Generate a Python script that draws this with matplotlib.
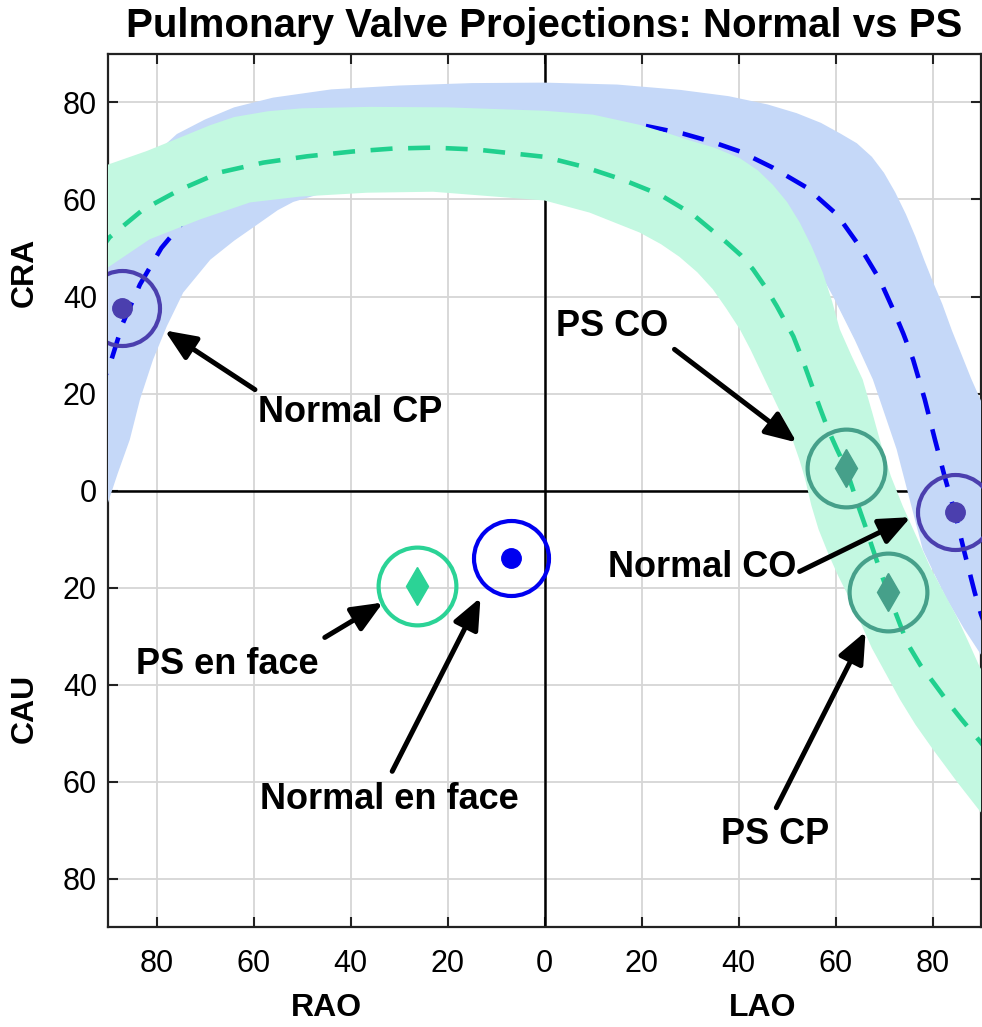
import numpy as np
import matplotlib
matplotlib.use("Agg")
import matplotlib.pyplot as plt

plt.rcParams['font.family'] = ['Liberation Sans', 'DejaVu Sans']

# --- data (x: +LAO / -RAO, y: +CRA / -CAU) ---
normal_line_x = [-92, -89.6, -86.9, -83.4, -79, -74, -67, -58, -48, -36, -24, -10, 0, 10, 20.7, 28.5,
                 34.5, 40.3, 47, 54, 60.3, 65, 69.1, 71.9, 74, 76, 78.4, 80.5, 82.5, 84.6, 86.6, 88.7,
                 90, 92]
normal_line_y = [20, 26, 34.6, 42.5, 50, 56, 61.5, 66, 69.5, 72, 73.5, 74.5, 75, 75.1, 75.2, 73.6,
                 71.9, 69.9, 66.6, 62.5, 56.9, 50.3, 43.5, 37.3, 32.3, 27, 18.8, 10.5, 2.9, -4.5, -12.8,
                 -21, -25.5, -31]

normal_outer_x = [-92, -90, -86, -82, -78, -75.8, -70, -64, -56, -44, -30, -15, 0, 15, 28, 38, 46, 52,
                  57, 61, 64.4, 67.5, 70, 72.3, 74.5, 76.5, 78.3, 80.1, 82, 84, 86, 88, 90, 92]
normal_outer_y = [58, 62, 65.5, 68.5, 71.5, 73.5, 76.5, 79, 81, 82.7, 83.5, 84, 84.1, 83.7, 82.6, 81.3,
                  79.6, 77.8, 75.8, 73.6, 71.6, 68.8, 65.5, 61.5, 57, 52.3, 47.5, 43, 38.5, 33, 28, 23,
                  18.5, 14]
normal_inner_x = [-92, -90, -88, -85.5, -83.4, -80.7, -77.9, -74.5, -68.9, -64, -60.7, -55, -51.8, -45,
                  -30, -15, 0, 20, 35, 46, 54, 59.5, 64, 67.7, 69.1, 72.6, 75.3, 78, 80.5, 83, 86.5,
                  89.7, 92]
normal_inner_y = [-8, -2.5, 3.5, 10.5, 18.8, 27, 33.8, 40.8, 47.6, 51.5, 53.8, 57.8, 59.5, 61.5,
                  62.8, 63, 63, 63, 61, 57, 50, 40, 31, 22.9, 18.8, 8.5, -1.9, -12.2, -17.5, -22.5,
                  -28.5, -33.4, -37]

ps_line_x = [-92, -89.7, -82.8, -75.2, -66.9, -58, -49, -39.5, -31.3, -23, -14, 0, 7.9, 16.1, 23.8,
             30.6, 37.6, 40.5, 43, 45.5, 47.9, 51.3, 53.2, 55, 56.8, 58.5, 60.3, 62.1, 63.5, 64.8, 66.2,
             67.5, 69.2, 70.8, 72.5, 74.8, 77.5, 80.5, 83.3, 86, 90, 92]
ps_line_y = [49, 52.2, 57.9, 62, 65.6, 67.6, 68.9, 69.9, 70.5, 70.7, 70.3, 68.8, 66.8, 64.1, 61,
             56.9, 51.1, 48.5, 45.6, 42, 38, 31.8, 27, 22, 17, 12.5, 8.5, 4.7, 0.5, -3.5, -7.5,
             -11.5, -16.5, -21, -25.5, -31.5, -36, -40, -43.8, -47.2, -52, -54.5]

ps_outer_x = [-92, -90, -82, -74.6, -69, -64, -57, -50, -36, -20, 0, 10, 19.6, 25, 29.9, 35, 40.3, 44,
              47.1, 50, 52.6, 55, 57.4, 59.3, 60.9, 63.3, 65.6, 67.6, 69.4, 71.4, 73.9, 76.7, 79.5,
              82.2, 85, 87.4, 89.7, 92]
ps_outer_y = [66.5, 67.2, 70, 73, 75.3, 77, 78.2, 78.8, 79.1, 79, 78.3, 77.5, 75.4, 73.8, 72.2, 70.7,
              68.5, 66, 63, 59.5, 55.3, 50.5, 44.9, 39, 33.2, 27.8, 22.9, 16, 9.5, 3, -3.3, -9.5,
              -15.7, -20.8, -26, -31.2, -36.3, -40]
ps_inner_x = [-92, -90, -81.4, -71, -60.7, -50.4, -36.6, -23, 0, 9.3, 19.6, 24, 27.8, 31.5, 34.7, 37.5,
              40.3, 42.5, 44.4, 47.5, 50.6, 52.5, 53.7, 55, 56.5, 58.5, 60.5, 63.5, 67.5, 73.3, 76.5,
              80.1, 85, 90, 92]
ps_inner_y = [44, 46, 51.8, 55.9, 59.4, 60.6, 61.4, 61.6, 59.8, 57.3, 53.2, 50.8, 48.2, 45, 41.5,
              37.5, 33.2, 29, 25, 18.5, 12, 6.5, 2.5, -3, -8, -13, -17.5, -23.5, -32.5, -43.1,
              -48.3, -53.4, -60, -66.4, -68.5]

normal_names = ['Normal CP', 'Normal CO', 'Normal en face']
normal_x = [-87.2, 84.6, -6.9]
normal_y = [37.7, -4.5, -14.0]

ps_names = ['PS CO', 'PS CP', 'PS en face']
ps_x = [62.1, 70.8, -26.3]
ps_y = [4.7, -21.0, -19.6]

ticks = [-80, -60, -40, -20, 0, 20, 40, 60, 80]

# --- styles ---
normal_band = '#c5d8f8'
ps_band = '#c3f8e1'
normal_line_c = '#0000f0'
ps_line_c = '#20d08e'
purple = '#4b3fae'
teal = '#46a08a'
green = '#2bd396'
blue = '#0000f0'

normal_colors = [purple, purple, blue]
ps_colors = [teal, teal, green]

# label: (text x, text y, arrow tail x, tail y, head x, head y)
label_layout = {
    'Normal CP': (-40, 16.1, -59.7, 20.8, -78.3, 33.0),
    'PS CO': (13.9, 33.8, 26.8, 29.1, 52.0, 9.9),
    'Normal CO': (32.5, -15.9, 52.6, -16.7, 75.5, -5.5),
    'PS en face': (-65.3, -35.9, -45.3, -30.3, -33.3, -23.1),
    'Normal en face': (-31.9, -63.7, -31.4, -57.9, -13.2, -22.1),
    'PS CP': (47.5, -70.9, 47.8, -65.4, 66.2, -29.1),
}

fig = plt.figure(figsize=(9.82, 10.27), dpi=100)
ax = fig.add_axes([108 / 982, 100 / 1027, 873 / 982, 873 / 1027])

ax.set_xlim(-90, 90)
ax.set_ylim(-90, 90)
ax.set_axisbelow(True)
ax.grid(True, color='#d6d6d6', lw=1.3)

ax.axhline(0, color='k', lw=1.8, zorder=1.5)
ax.axvline(0, color='k', lw=1.8, zorder=1.5)

# bands drawn over spines/grid like the reference
ax.fill(np.concatenate([normal_outer_x, normal_inner_x[::-1]]),
        np.concatenate([normal_outer_y, normal_inner_y[::-1]]),
        color=normal_band, lw=0, zorder=3)
ax.plot(normal_line_x, normal_line_y, color=normal_line_c, lw=3.3, ls=(0, (4.8, 3.4)), zorder=3.2)
ax.fill(np.concatenate([ps_outer_x, ps_inner_x[::-1]]),
        np.concatenate([ps_outer_y, ps_inner_y[::-1]]),
        color=ps_band, lw=0, zorder=3.4)
ax.plot(ps_line_x, ps_line_y, color=ps_line_c, lw=3.3, ls=(0, (4.8, 3.4)), zorder=3.6)

for i in range(3):
    ax.plot(normal_x[i], normal_y[i], 'o', ms=14, color=normal_colors[i], zorder=4)
    ax.plot(normal_x[i], normal_y[i], 'o', ms=54, mfc='none', mec=normal_colors[i], mew=3, zorder=4)
    ax.plot(ps_x[i], ps_y[i], 'd', ms=19, color=ps_colors[i], zorder=4)
    ax.plot(ps_x[i], ps_y[i], 'o', ms=56, mfc='none', mec=ps_colors[i], mew=3, zorder=4)

for name in normal_names + ps_names:
    tx, ty, ax0, ay0, hx, hy = label_layout[name]
    ax.text(tx, ty, name, ha='center', va='center', fontsize=26, fontweight='bold', zorder=6)
    ax.annotate('', xy=(hx, hy), xytext=(ax0, ay0),
                arrowprops=dict(arrowstyle='-|>,head_length=0.75,head_width=0.32', color='k',
                                lw=3.6, mutation_scale=25, shrinkA=0, shrinkB=0), zorder=6)

ax.set_xticks(ticks)
ax.set_yticks(ticks)
ax.set_xticklabels([str(abs(t)) for t in ticks])
ax.set_yticklabels([str(abs(t)) for t in ticks])
ax.tick_params(direction='in', length=7, width=1.5, labelsize=22, top=True, right=True, color='#222222')
ax.tick_params(axis='x', pad=16)
ax.tick_params(axis='y', pad=8)
for s in ax.spines.values():
    s.set_linewidth(1.6)
    s.set_color('#222222')

ax.text(-45, -0.093, 'RAO', transform=ax.get_xaxis_transform(), ha='center', va='center',
        fontsize=23, fontweight='bold')
ax.text(45, -0.093, 'LAO', transform=ax.get_xaxis_transform(), ha='center', va='center',
        fontsize=23, fontweight='bold')
ax.text(-0.095, 45, 'CRA', transform=ax.get_yaxis_transform(), ha='center', va='center',
        fontsize=23, fontweight='bold', rotation=90)
ax.text(-0.095, -45, 'CAU', transform=ax.get_yaxis_transform(), ha='center', va='center',
        fontsize=23, fontweight='bold', rotation=90)

ax.set_title('Pulmonary Valve Projections: Normal vs PS', fontsize=29, fontweight='bold', pad=12)

fig.savefig('out.png', dpi=100)
